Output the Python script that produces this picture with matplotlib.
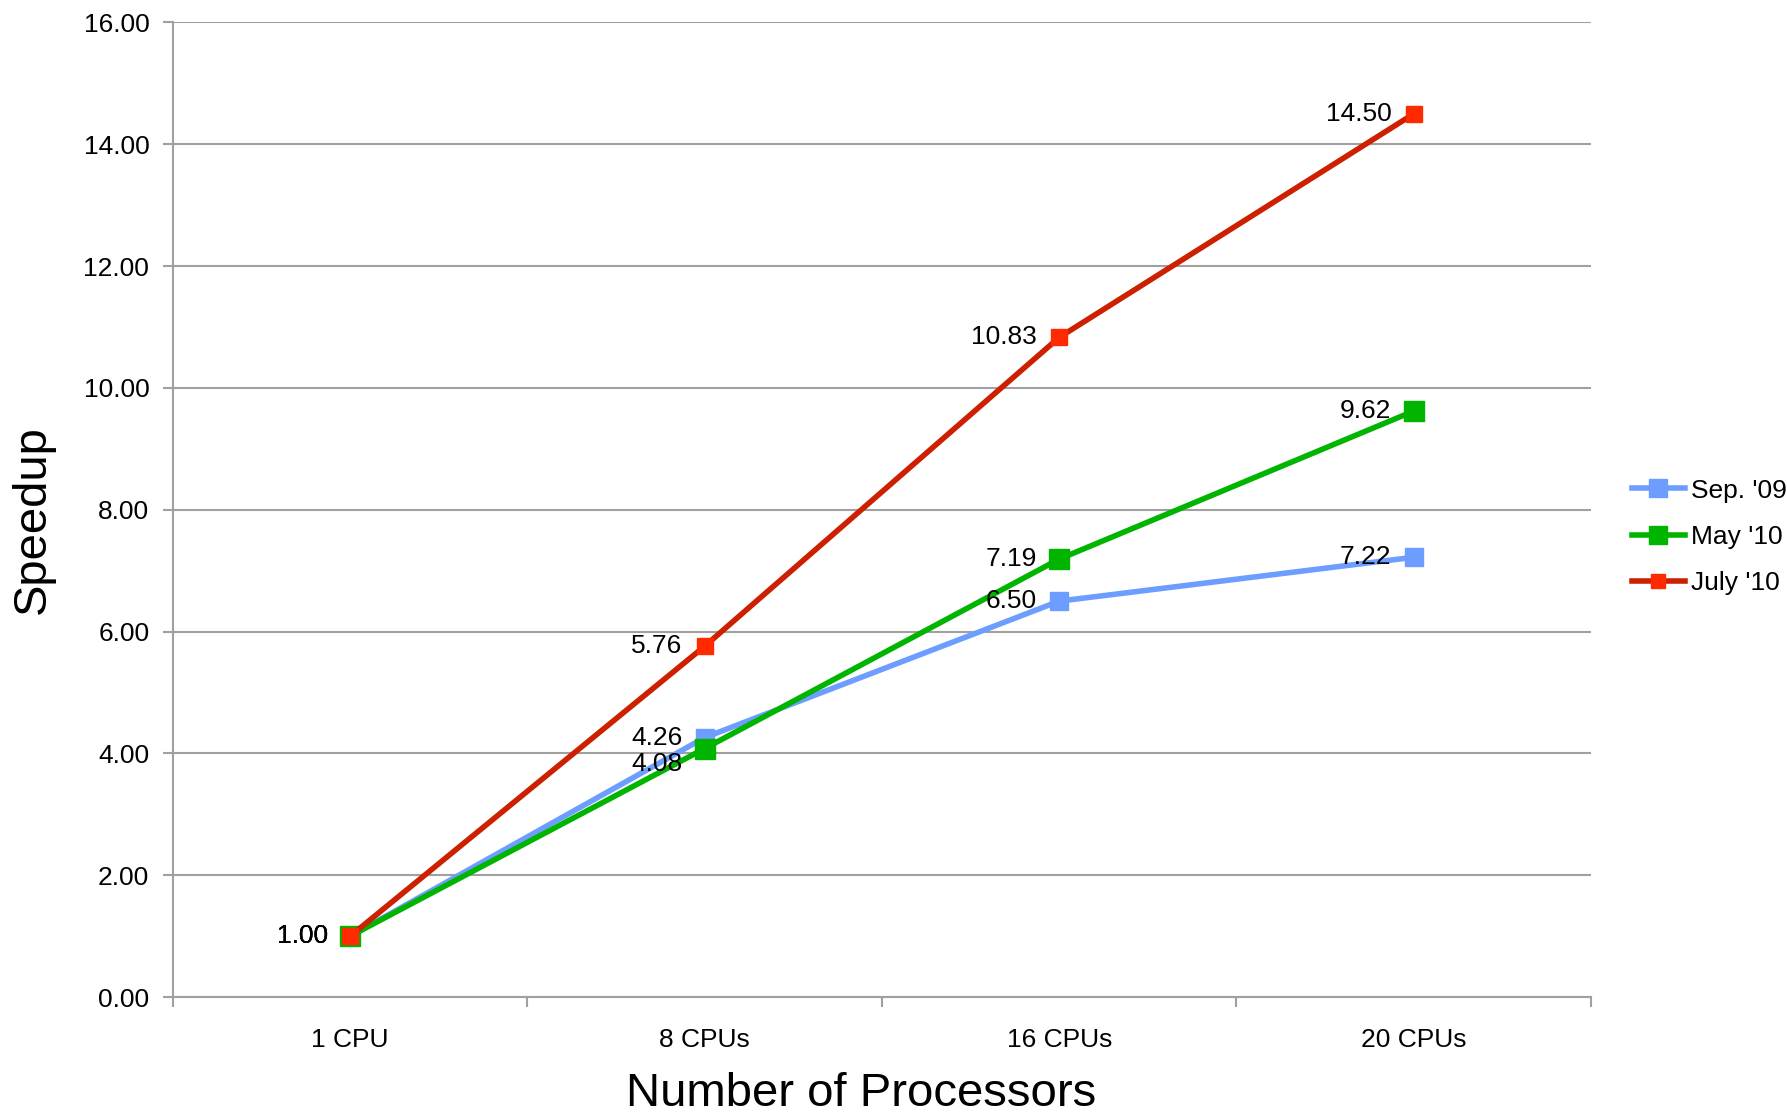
import matplotlib
matplotlib.use("Agg")
import matplotlib.pyplot as plt

plt.rcParams['font.family'] = ['Liberation Sans', 'DejaVu Sans']

categories = ["1 CPU", "8 CPUs", "16 CPUs", "20 CPUs"]
series_names = ["Sep. '09", "May '10", "July '10"]
sep09 = [1.00, 4.26, 6.50, 7.22]
may10 = [1.00, 4.08, 7.19, 9.62]
july10 = [1.00, 5.76, 10.83, 14.50]
yticks = [0, 2, 4, 6, 8, 10, 12, 14, 16]

line_colors = ['#6d9eff', '#00b400', '#cc2000']
marker_colors = ['#6d9eff', '#00b400', '#ff2a00']
marker_sizes = [13, 14, 11]

fig = plt.figure(figsize=(17.87, 11.13), dpi=100)
ax = fig.add_axes([0.0968, 0.1042, 0.7935, 0.8756])

x = list(range(len(categories)))
all_series = [sep09, may10, july10]
for i, ys in enumerate(all_series):
    ax.plot(x, ys, color=line_colors[i], lw=4, marker='s',
            markersize=marker_sizes[i], markerfacecolor=marker_colors[i],
            markeredgecolor=marker_colors[i], label=series_names[i], zorder=3 + i)

# data labels to the left of each point
for i, ys in enumerate(all_series):
    for j, v in enumerate(ys):
        dy = 0
        if i == 1 and j == 1:
            dy = -11
        ax.annotate("%.2f" % v, (x[j], v), xytext=(-16, dy), textcoords='offset points',
                    ha='right', va='center', fontsize=19, color='black', zorder=10)

ax.set_xlim(-0.5, len(categories) - 0.5)
ax.set_ylim(0, 16)
ax.set_yticks(yticks)
ax.set_yticklabels(["%.2f" % t for t in yticks])
ax.set_xticks(x)
ax.set_xticklabels(categories)
ax.set_xticks([k - 0.5 for k in range(len(categories) + 1)], minor=True)

ax.grid(axis='y', color='#a0a0a0', lw=1.5, zorder=0)
ax.set_axisbelow(True)
for s in ['top', 'right']:
    ax.spines[s].set_visible(False)
for s in ['left', 'bottom']:
    ax.spines[s].set_color('#a0a0a0')
    ax.spines[s].set_linewidth(1.5)

ax.tick_params(axis='y', labelsize=19, length=7, width=1.5, color='#a0a0a0', pad=10)
ax.tick_params(axis='x', which='major', labelsize=19, length=0, pad=22)
ax.tick_params(axis='x', which='minor', length=7, width=1.5, color='#a0a0a0')

ax.set_ylabel("Speedup", fontsize=34)
ax.yaxis.set_label_coords(-0.083, 0.49)
ax.set_xlabel("Number of Processors", fontsize=34)
ax.xaxis.set_label_coords(0.485, -0.077)

leg = ax.legend(loc='center left', bbox_to_anchor=(1.012, 0.472), frameon=False,
                fontsize=19, handlelength=2.0, handletextpad=0.25, labelspacing=0.85,
                markerscale=0.95)

fig.savefig("out.png", dpi=100)
